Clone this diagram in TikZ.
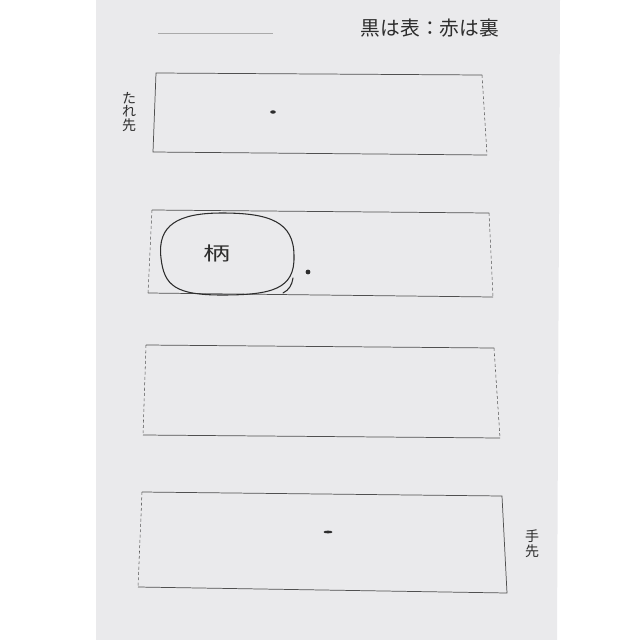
\documentclass[tikz,border=0pt]{standalone}
\usepackage{graphicx}
\usepackage{fontspec}
\newfontfamily\jp{Noto Sans CJK JP}

\definecolor{paper}{RGB}{234,234,236}
\definecolor{ink}{RGB}{80,80,80}
\definecolor{pencil}{RGB}{45,45,45}

\tikzset{every picture/.style={line width=0.6pt}}
\tikzset{
  edge/.style={draw=ink, line width=0.55pt},
  fold/.style={draw=ink, line width=0.4pt, dash pattern=on 2.2pt off 1.8pt},
  pen/.style={draw=pencil, line width=0.8pt, line cap=round},
  label/.style={inner sep=0.75pt, text=pencil, font=\jp},
}

\begin{document}
\begin{tikzpicture}[x=0.75pt,y=0.75pt,yscale=-1,xscale=1]
\useasboundingbox (0,0) rectangle (640,640);

%Shape: paper
\fill [paper] (96,0) -- (560,0) -- (557,640) -- (96,640) -- cycle;
%Straight Lines: name line
\draw [draw={rgb,255:red,170;green,170;blue,170}, line width=0.4pt] (158,33) -- (273,33);

%Shape: panel 1 (tare saki)
\draw [edge] (482,75) -- (156,73) -- (153,152) -- (487,155);
\draw [fold] (482,75) -- (487,155);
\fill [pencil] (273,112) ellipse [x radius=2.8, y radius=1.7];

%Shape: panel 2 (gara)
\draw [edge] (152,210) -- (489,213);
\draw [edge] (148,293) -- (493,297);
\draw [fold] (152,210) -- (148,293);
\draw [fold] (489,213) -- (493,297);
\draw [pen] (161,258) .. controls (157,225) and (178,213) .. (222,213) .. controls (270,213) and (294,222) .. (294,256) .. controls (295,289) and (272,295) .. (222,295) .. controls (176,295) and (164,286) .. (161,258) -- cycle;
\draw [pen] (283,293) .. controls (289,290) and (292,285) .. (293,278);
\fill [pencil] (308,272) circle [radius=2.4];

%Shape: panel 3
\draw [edge] (146,345) -- (494,348);
\draw [edge] (143,435) -- (500,438);
\draw [fold] (146,345) -- (143,435);
\draw [fold] (494,348) -- (500,438);

%Shape: panel 4 (te saki)
\draw [edge] (142,492) -- (502,496) -- (507,593) -- (138,587);
\draw [fold] (142,492) -- (138,587);
\fill [pencil] (328,532) ellipse [x radius=4.5, y radius=1.4];

% Text Node
\draw (430,28) node [label, font=\jp\fontsize{14.8}{15}\selectfont] (title) {黒は表：赤は裏};
% Text Node
\draw (129,112) node [label, align=center, font=\jp\fontsize{10.5}{10}\selectfont] (tare) {た\\れ\\先};
% Text Node
\draw (217,253) node [label, font=\jp\fontsize{14}{14}\selectfont] (gara) {\scalebox{1.45}[1]{柄}};
% Text Node
\draw (532,544) node [label, align=center, font=\jp\fontsize{10.5}{11.5}\selectfont] (te) {手\\先};

\end{tikzpicture}
\end{document}
